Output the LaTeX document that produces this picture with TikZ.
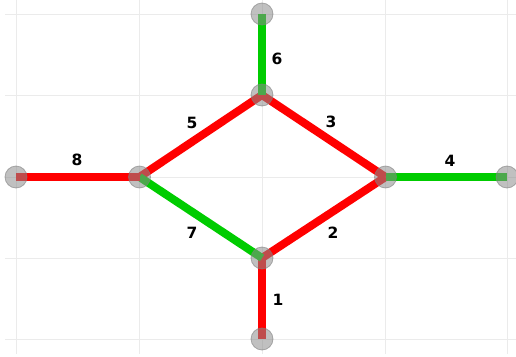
\documentclass[tikz,border=0pt]{standalone}
\usepackage{fontspec}
\setmainfont{DejaVu Sans}
\begin{document}
\begin{tikzpicture}[x=1pt,y=-1pt,
  gridline/.style={draw=black!8,line width=0.9pt},
  vert/.style={circle,minimum size=22pt,inner sep=0pt,fill=black!45,fill opacity=0.55,draw=black!50,draw opacity=0.6,line width=0.8pt},
  redge/.style={draw=red,line width=8pt,line cap=butt},
  gedge/.style={draw={rgb,255:red,0;green,204;blue,0},line width=8pt,line cap=butt},
  elabel/.style={font=\fontsize{15.5}{18}\selectfont\bfseries,inner sep=0pt,text=black}]
\useasboundingbox (0,0) rectangle (516,356);
% grid
\foreach \gx in {16,139.5,262,385.5,507}{\draw[gridline] (\gx,0) -- (\gx,354);}
\foreach \gy in {14,95,177,258,339}{\draw[gridline] (5,\gy) -- (516,\gy);}
% vertex coordinates
\coordinate (pT) at (262,14);
\coordinate (pU) at (262,95);
\coordinate (pL) at (139.5,177);
\coordinate (pFL) at (16,177);
\coordinate (pR) at (385.5,177);
\coordinate (pFR) at (507,177);
\coordinate (pD) at (262,258);
\coordinate (pB) at (262,339);
% edges
\draw[redge] (pD) -- (pB);
\draw[redge] (pD) -- (pR);
\draw[redge] (pU) -- (pR);
\draw[gedge] (pR) -- (pFR);
\draw[redge] (pL) -- (pU);
\draw[gedge] (pU) -- (pT);
\draw[gedge] (pL) -- (pD);
\draw[redge] (pFL) -- (pL);
% vertices
\node[vert] (vT) at (pT) {};
\node[vert] (vU) at (pU) {};
\node[vert] (vL) at (pL) {};
\node[vert] (vFL) at (pFL) {};
\node[vert] (vR) at (pR) {};
\node[vert] (vFR) at (pFR) {};
\node[vert] (vD) at (pD) {};
\node[vert] (vB) at (pB) {};
% labels
\node[elabel] (l1) at (278,300) {1};
\node[elabel] (l2) at (333,233) {2};
\node[elabel] (l3) at (331,122) {3};
\node[elabel] (l4) at (450,161) {4};
\node[elabel] (l5) at (192,123) {5};
\node[elabel] (l6) at (277,59) {6};
\node[elabel] (l7) at (192,233) {7};
\node[elabel] (l8) at (77,160) {8};
\end{tikzpicture}
\end{document}
